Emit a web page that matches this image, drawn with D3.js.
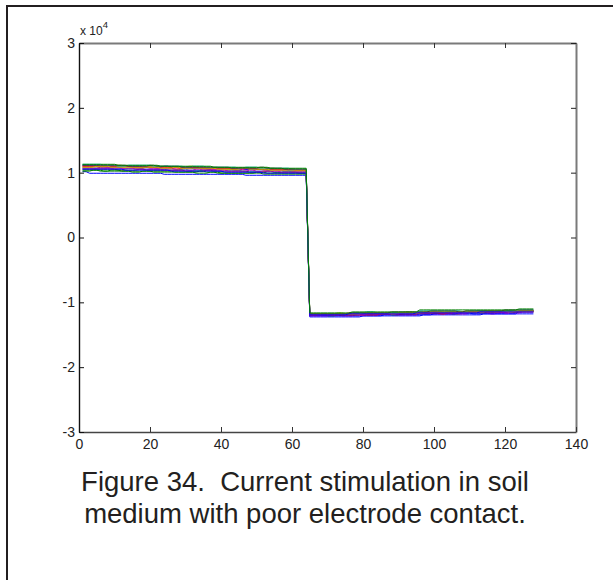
<!DOCTYPE html>
<html>
<head>
<meta charset="utf-8">
<script src="https://cdn.jsdelivr.net/npm/d3@7"></script>
<style>
  html, body { margin: 0; padding: 0; background: #ffffff; }
  svg { display: block; }
  .caption { white-space: pre; }
</style>
</head>
<body>
<svg id="chart" width="613" height="580"></svg>
<script>
// ---- data -------------------------------------------------------------
const xTicks = [0, 20, 40, 60, 80, 100, 120, 140];
const yTicks = [-30000, -20000, -10000, 0, 10000, 20000, 30000];
const yExponent = 4;
const sampleCount = 128;
const captionLines = [
  "Figure 34.  Current stimulation in soil",
  "medium with poor electrode contact."
];
// MATLAB line colour order: b g r c m y k
const traceColors = ["#0000ff", "#008000", "#ff0000", "#00bfbf", "#bf00bf", "#bfbf00", "#404040"];

// Each trace is a list of [first sample, level] runs; the level holds until the next run.
const trace01 = [[1, 10150], [3, 9910], [24, 9750], [47, 9600],
                 [65, -12250], [80, -12090], [97, -11930], [114, -11780]];
const trace02 = [[1, 10240], [4, 10390], [7, 10240], [15, 10090], [18, 10240], [21, 10090], [33, 9930],
                 [37, 10090], [40, 9930], [52, 9780],
                 [65, -11930], [70, -12080], [73, -11930], [79, -11780], [88, -11930], [91, -11780],
                 [99, -11630], [105, -11780], [108, -11630], [117, -11480]];
const trace03 = [[1, 10840], [4, 10690], [6, 10840], [12, 10690], [19, 10840], [22, 10690], [27, 10540],
                 [30, 10690], [35, 10540], [44, 10390], [46, 10540], [52, 10390], [58, 10230],
                 [65, -11780], [68, -11930], [71, -11780], [76, -11630], [82, -11780], [90, -11630],
                 [98, -11480], [101, -11630], [108, -11480], [114, -11330], [117, -11480], [121, -11330]];
const trace04 = [[1, 10690], [10, 10540], [14, 10690], [16, 10540], [25, 10390], [29, 10540], [31, 10390],
                 [39, 10240], [42, 10390], [46, 10230], [55, 10080], [58, 10230], [60, 10080],
                 [65, -11930], [69, -11780], [72, -11930], [83, -11780], [94, -11630], [103, -11480],
                 [106, -11630], [112, -11480], [120, -11330]];
const trace05 = [[1, 10990], [8, 10840], [13, 10990], [15, 10840], [20, 10690], [28, 10840], [30, 10690],
                 [37, 10540], [41, 10690], [44, 10540], [55, 10380], [60, 10540], [62, 10380],
                 [65, -12080], [71, -11930], [74, -12080], [78, -11930], [86, -11780], [89, -11930],
                 [96, -11780], [110, -11630], [116, -11780], [118, -11630], [125, -11480]];
const trace06 = [[1, 11140], [5, 10990], [7, 11140], [13, 10990], [26, 10840], [31, 10990], [33, 10840],
                 [40, 10690], [49, 10540], [53, 10690], [56, 10530],
                 [65, -11780], [73, -11630], [75, -11780], [81, -11630], [92, -11480], [95, -11630],
                 [98, -11480], [109, -11330], [112, -11480], [119, -11330]];
const trace07 = [[1, 10540], [11, 10390], [17, 10540], [19, 10390], [30, 10240], [36, 10390], [38, 10240],
                 [48, 10080], [53, 10240], [55, 10080], [62, 9930],
                 [65, -11930], [75, -11780], [84, -11630], [86, -11780], [92, -11630], [104, -11480],
                 [113, -11630], [115, -11480], [118, -11330]];
const trace08 = [[1, 11140], [6, 10990], [18, 10840], [24, 10990], [26, 10840], [32, 10690], [47, 10530],
                 [59, 10380],
                 [65, -12080], [86, -11930], [100, -11780], [107, -11630], [111, -11780], [124, -11320]];
const trace09 = [[1, 10390], [6, 10240], [9, 10390], [12, 10240], [27, 10090], [34, 10240], [36, 10090],
                 [39, 9930], [50, 10090], [53, 9930],
                 [65, -11780], [77, -11630], [84, -11780], [87, -11630], [96, -11480], [103, -11630],
                 [105, -11480], [112, -11330], [122, -11480], [125, -11330]];
const trace10 = [[1, 10990], [15, 10840], [28, 10690], [30, 10840], [34, 10690], [43, 10540], [45, 10690],
                 [50, 10530], [61, 10380],
                 [65, -11930], [68, -11780], [71, -11930], [85, -11780], [96, -11630], [102, -11780],
                 [104, -11630], [106, -11480], [124, -11330]];
const trace11 = [[1, 11290], [7, 11140], [11, 10990], [14, 11140], [21, 10990], [30, 10840], [32, 10990],
                 [36, 10840], [45, 10690], [47, 10840], [51, 10680], [60, 10540],
                 [65, -11780], [77, -11630], [81, -11480], [84, -11630], [96, -11330], [108, -11480],
                 [110, -11330], [124, -11170]];
const trace12 = [[1, 10690], [16, 10540], [24, 10390], [33, 10540], [35, 10390], [42, 10230], [48, 10390],
                 [50, 10230], [57, 10080],
                 [65, -11930], [74, -11780], [79, -11930], [81, -11780], [91, -11630], [100, -11480],
                 [102, -11630], [110, -11480], [120, -11630], [122, -11480]];
const trace13 = [[1, 10840], [5, 10990], [9, 10840], [23, 10690], [27, 10840], [29, 10690], [39, 10540],
                 [46, 10690], [48, 10540], [54, 10380],
                 [65, -11780], [80, -11630], [88, -11780], [90, -11630], [97, -11480], [115, -11330],
                 [121, -11480], [123, -11330]];
const trace14 = [[1, 11140], [14, 10990], [20, 11140], [22, 10990], [29, 10840], [43, 10690], [51, 10840],
                 [53, 10690], [58, 10530],
                 [65, -11780], [77, -11630], [88, -11480], [99, -11330], [107, -11480], [109, -11330],
                 [120, -11170]];
const trace15 = [[1, 10540], [13, 10390], [26, 10240], [41, 10080], [52, 9930],
                 [65, -11930], [76, -11780], [95, -11630], [113, -11480]];
const trace16 = [[1, 11290], [11, 11140], [23, 10990], [38, 10830], [54, 10680],
                 [65, -11630], [77, -11480], [96, -11170], [124, -11020]];

const traces = [trace01, trace02, trace03, trace04, trace05, trace06, trace07, trace08,
                trace09, trace10, trace11, trace12, trace13, trace14, trace15, trace16];

// ---- layout -----------------------------------------------------------
const plot = { left: 79, right: 576, top: 43, bottom: 432 };
const font = "'Liberation Sans', Arial, Helvetica, sans-serif";
const ink = "#231f20";

const svg = d3.select("#chart");

const x = d3.scaleLinear().domain([0, 140]).range([plot.left, plot.right]);
const y = d3.scaleLinear().domain([-30000, 30000]).range([plot.bottom, plot.top]);

// page frame (left and top edges)
svg.append("line").attr("x1", 7).attr("x2", 7).attr("y1", 5).attr("y2", 580)
  .attr("stroke", ink).attr("stroke-width", 2);
svg.append("line").attr("x1", 6).attr("x2", 613).attr("y1", 6).attr("y2", 6)
  .attr("stroke", ink).attr("stroke-width", 2);

// ---- traces -------------------------------------------------------------
function expandRuns(runs) {
  const pts = [];
  for (let i = 1; i <= sampleCount; i++) {
    let v = runs[0][1];
    for (const [start, level] of runs) if (start <= i) v = level;
    pts.push([i, v]);
  }
  return pts;
}

const line = d3.line().x(d => x(d[0])).y(d => y(d[1]));

const traceLayer = svg.append("g").attr("class", "traces");
traces.forEach((runs, k) => {
  traceLayer.append("path")
    .datum(expandRuns(runs))
    .attr("d", line)
    .attr("fill", "none")
    .attr("stroke", traceColors[k % traceColors.length])
    .attr("stroke-width", 1)
    .attr("stroke-linejoin", "miter");
});

// ---- axes -----------------------------------------------------------------
const tickLen = 5;

// top and right box edges with inward ticks, no labels
const topAxis = svg.append("g").attr("transform", `translate(0,${plot.top})`)
  .call(d3.axisTop(x).tickValues(xTicks).tickSizeInner(-tickLen).tickSizeOuter(0).tickFormat(""));
topAxis.select(".domain").attr("stroke", "#7a7a7a").attr("stroke-width", 2);
topAxis.selectAll(".tick line").attr("stroke", "#333");

const rightAxis = svg.append("g").attr("transform", `translate(${plot.right},0)`)
  .call(d3.axisRight(y).tickValues(yTicks).tickSizeInner(-tickLen).tickSizeOuter(0).tickFormat(""));
rightAxis.select(".domain").attr("stroke", "#7a7a7a").attr("stroke-width", 2);
rightAxis.selectAll(".tick line").attr("stroke", "#222");

const bottomAxis = svg.append("g").attr("transform", `translate(0,${plot.bottom})`)
  .call(d3.axisBottom(x).tickValues(xTicks).tickSizeInner(-tickLen).tickSizeOuter(0).tickPadding(7));
bottomAxis.select(".domain").attr("stroke", "#444").attr("stroke-width", 1.4);
bottomAxis.selectAll(".tick line").attr("stroke", "#333");
bottomAxis.selectAll(".tick text")
  .attr("font-family", font).attr("font-size", 14).attr("fill", "#222");

const leftAxis = svg.append("g").attr("transform", `translate(${plot.left},0)`)
  .call(d3.axisLeft(y).tickValues(yTicks).tickSizeInner(-tickLen).tickSizeOuter(0).tickPadding(4)
    .tickFormat(d => String(d / Math.pow(10, yExponent))));
leftAxis.select(".domain").attr("stroke", "#111").attr("stroke-width", 1.4);
leftAxis.selectAll(".tick line").attr("stroke", "#111");
leftAxis.selectAll(".tick text")
  .attr("font-family", font).attr("font-size", 14).attr("fill", "#222");

// exponent multiplier above the y axis
const expo = svg.append("text").attr("x", 80).attr("y", 35)
  .attr("font-family", font).attr("font-size", 12).attr("fill", "#222");
expo.append("tspan").text("x 10");
expo.append("tspan").attr("dy", -7.5).attr("font-size", 9.5).text(String(yExponent));

// ---- caption ----------------------------------------------------------------
svg.append("g").selectAll("text")
  .data(captionLines)
  .join("text")
  .attr("class", "caption")
  .attr("x", 305)
  .attr("y", (d, i) => 491 + i * 32)
  .attr("text-anchor", "middle")
  .attr("font-family", font)
  .attr("font-size", 27.5)
  .attr("fill", ink)
  .text(d => d);
</script>
</body>
</html>
